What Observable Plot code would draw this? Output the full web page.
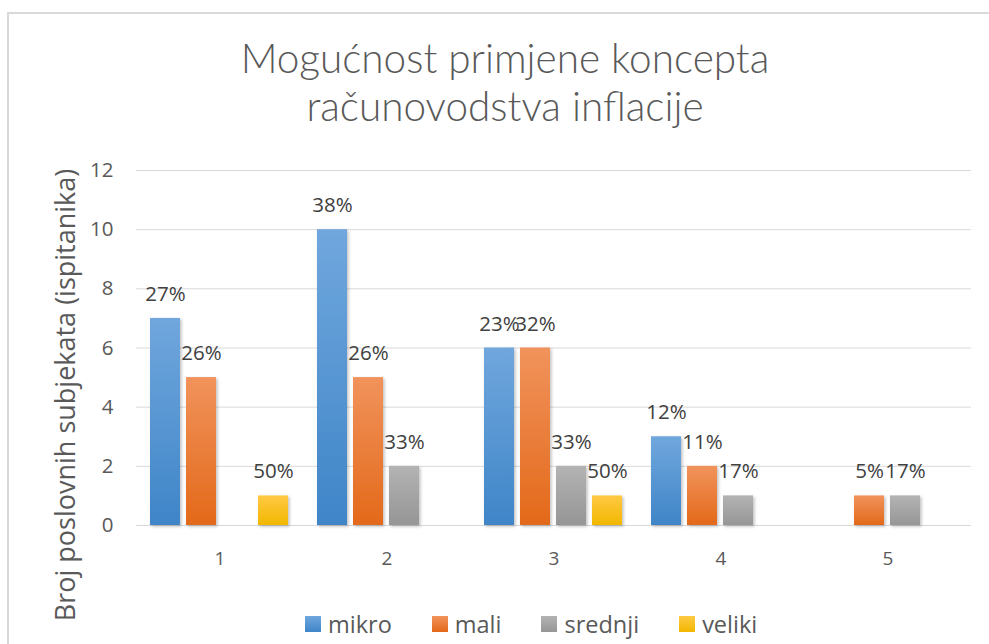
<!DOCTYPE html>
<html><head><meta charset="utf-8">
<script src="https://cdn.jsdelivr.net/npm/d3@7"></script>
<script src="https://cdn.jsdelivr.net/npm/@observablehq/plot@0.6"></script>
<style>
html,body{margin:0;padding:0;background:#fff;}
#wrap{position:relative;width:989px;height:644px;overflow:hidden;font-family:"Open Sans",sans-serif;}
#frame{position:absolute;left:7px;top:12px;width:1000px;height:700px;border-left:2px solid #d9d9d9;border-top:2px solid #d9d9d9;}
#chart{position:absolute;left:0;top:0;}
#title{position:absolute;left:0;top:34px;width:1010px;text-align:center;font-family:Lato,sans-serif;font-weight:300;font-size:40.5px;line-height:48px;color:#595959;}
#ylab{position:absolute;left:64px;top:395px;transform:translate(-50%,-50%) rotate(-90deg);white-space:nowrap;font-size:27px;color:#595959;}
#legend{position:absolute;left:305px;top:608px;display:flex;gap:40px;font-size:23.5px;color:#595959;align-items:center;}
#legend .it{display:flex;align-items:center;gap:7px;}
#legend .sw{width:16px;height:16px;}
</style>
</head><body>
<div id="wrap">
  <div id="frame"></div>
  <div id="chart"></div>
  <div id="title">Mogućnost primjene koncepta<br>računovodstva inflacije</div>
  <div id="ylab">Broj poslovnih subjekata (ispitanika)</div>
  <div id="legend"></div>
</div>
<script>
const categories = ["1", "2", "3", "4", "5"];
const series = ["mikro", "mali", "srednji", "veliki"];
const mikro = [7, 10, 6, 3, 0];
const mali = [5, 5, 6, 2, 1];
const srednji = [0, 2, 2, 1, 1];
const veliki = [1, 0, 1, 0, 0];
const mikroPct = ["27%", "38%", "23%", "12%", null];
const maliPct = ["26%", "26%", "32%", "11%", "5%"];
const srednjiPct = [null, "33%", "33%", "17%", "17%"];
const velikiPct = ["50%", null, "50%", null, null];
const yTicks = [0, 2, 4, 6, 8, 10, 12];

const seriesValues = {mikro, mali, srednji, veliki};
const seriesPct = {mikro: mikroPct, mali: maliPct, srednji: srednjiPct, veliki: velikiPct};
const gradients = {
  mikro: ["#70a7dd", "#3f85c8"],
  mali: ["#f1935c", "#e3691a"],
  srednji: ["#b3b3b3", "#969696"],
  veliki: ["#ffc944", "#f2b700"]
};

const data = [];
categories.forEach((c, i) => {
  series.forEach(s => {
    data.push({cat: c, series: s, value: seriesValues[s][i], label: seriesPct[s][i]});
  });
});

const chart = Plot.plot({
  width: 989,
  height: 644,
  marginLeft: 135,
  marginRight: 17,
  marginTop: 170,
  marginBottom: 119,
  style: {fontFamily: "'Open Sans', sans-serif", color: "#595959", background: "transparent"},
  fx: {domain: categories, padding: 0},
  x: {domain: series, paddingInner: 0.164, paddingOuter: 0.377, axis: null},
  y: {domain: [0, 12]},
  color: {domain: series, range: series.map(s => `url(#grad-${s})`)},
  marks: [
    Plot.gridY(yTicks, {stroke: "#d9d9d9", strokeOpacity: 1, strokeWidth: 1}),
    Plot.axisY(yTicks, {tickSize: 0, tickPadding: 23, fontSize: 20.5, fill: "#595959", label: null}),
    Plot.axisFx({anchor: "bottom", tickSize: 0, tickPadding: 26, fontSize: 19, fill: "#595959", label: null}),
    Plot.barY(data.filter(d => d.value > 0), {fx: "cat", x: "series", y: "value", fill: "series"}),
    Plot.text(data.filter(d => d.label), {fx: "cat", x: "series", y: "value", text: "label", dy: -24, fontSize: 20.5, fill: "#404040"})
  ]
});

const svg = d3.select(chart);
const defs = svg.insert("defs", ":first-child");
series.forEach(s => {
  const g = defs.append("linearGradient").attr("id", `grad-${s}`).attr("x1", 0).attr("y1", 0).attr("x2", 0).attr("y2", 1);
  g.append("stop").attr("offset", "0%").attr("stop-color", gradients[s][0]);
  g.append("stop").attr("offset", "100%").attr("stop-color", gradients[s][1]);
});
const f = defs.append("filter").attr("id", "shadow").attr("x", "-20%").attr("y", "-20%").attr("width", "150%").attr("height", "150%");
f.append("feDropShadow").attr("dx", 1.5).attr("dy", 1.5).attr("stdDeviation", 1.5).attr("flood-color", "#000").attr("flood-opacity", 0.25);
svg.selectAll('g[aria-label="bar"] rect').attr("filter", "url(#shadow)");

document.getElementById("chart").appendChild(chart);

const legend = d3.select("#legend");
series.forEach(s => {
  const it = legend.append("div").attr("class", "it");
  it.append("div").attr("class", "sw").style("background", `linear-gradient(${gradients[s][0]}, ${gradients[s][1]})`);
  it.append("span").text(s);
});
</script>
</body></html>
